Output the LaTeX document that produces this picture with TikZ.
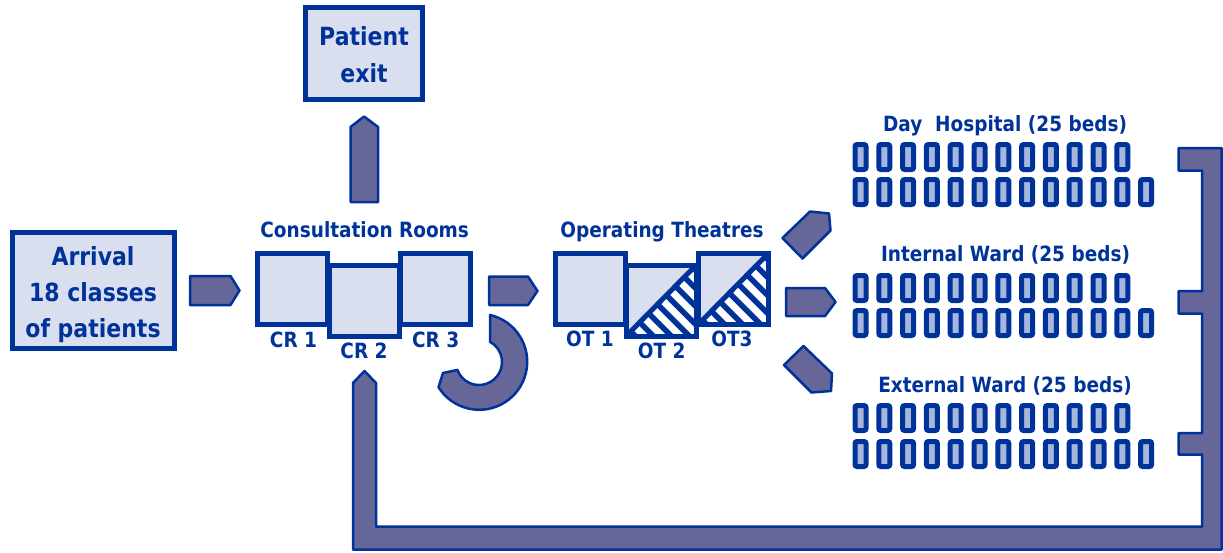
\documentclass[tikz,border=0pt]{standalone}
\usepackage{fontspec}
\usetikzlibrary{calc}
\setmainfont{DejaVu Sans}[FakeStretch=0.88]
\definecolor{dblue}{HTML}{003399}
\definecolor{lblue}{HTML}{D9DFEF}
\definecolor{purp}{HTML}{666699}
\definecolor{bedl}{HTML}{A6B6DC}
\tikzset{
  box/.style={draw=dblue, line width=5pt, fill=lblue, text=dblue, align=center, inner sep=0pt, outer sep=0pt},
  room/.style={draw=dblue, line width=5pt, fill=lblue, minimum width=70pt, minimum height=71pt, inner sep=0pt, outer sep=0pt},
  lbl/.style={text=dblue, font=\bfseries\fontsize{21}{21}\selectfont, anchor=base, inner sep=0pt},
  blk/.style={draw=dblue, line width=2.5pt, fill=purp, line join=round},
  bed/.style={draw=dblue, line width=5pt, fill=bedl, rounded corners=2pt},
  hatch/.style={dblue, line width=5.5pt}
}
\begin{document}
\begin{tikzpicture}[x=1pt,y=-1pt]
\useasboundingbox (0,0) rectangle (1223,552);

% return path with ward brackets
\draw[blk] (353,549.5) -- (1221.5,549.5) -- (1221.5,148) -- (1178.5,148) -- (1178.5,170.5)
  -- (1202,170.5) -- (1202,291) -- (1178.5,291) -- (1178.5,313.5) -- (1202,313.5)
  -- (1202,433) -- (1178.5,433) -- (1178.5,454.5) -- (1202,454.5) -- (1202,526.5)
  -- (376,526.5) -- (376,383) -- (364.5,371) -- (353,383) -- cycle;

% arrival
\node[box, minimum width=162, minimum height=116, font=\bfseries\fontsize{25}{36}\selectfont] (arrival) at (93,290) {\rule{0pt}{28pt}Arrival\\18 classes\\of patients};
\draw[blk] (190,276) -- (230.5,276) -- (239.5,290.5) -- (230.5,305) -- (190,305) -- cycle;

% exit
\node[box, minimum width=117, minimum height=92, font=\bfseries\fontsize{25}{36.7}\selectfont] (exit) at (364,53.5) {\rule{0pt}{22pt}Patient\\exit};
\draw[blk] (350.5,202) -- (350.5,127) -- (364,116.5) -- (378,127) -- (378,202) -- cycle;

% consultation rooms
\node[lbl] (crt) at (364.7,237.7) {Consultation Rooms};
\node[room] (cr1) at (292.5,289.2) {};
\node[room] (cr3) at (435.3,289.2) {};
\node[room] (cr2) at (364.2,301) {};
\node[lbl] (cr1l) at (293.5,347.3) {CR 1};
\node[lbl] (cr2l) at (364,358.3) {CR 2};
\node[lbl] (cr3l) at (435.7,347.3) {CR 3};

% loop
\draw[blk] (490,315) arc[start angle=-77, end angle=148, radius=48] -- (443,373)
  -- (457.4,369.9) arc[start angle=160, end angle=-61, radius=23] -- cycle;

% arrow CR -> OT
\draw[blk] (489,276.5) -- (528,276.5) -- (537.5,291) -- (528,305) -- (489,305) -- cycle;

% operating theatres
\node[lbl] (ott) at (662,237) {Operating Theatres};
\node[room] (ot1) at (590,289.2) {};
\node[room] (ot2) at (661.2,300.5) {};
\node[room] (ot3) at (733,289.2) {};
\foreach \o in {ot2,ot3}{
  \fill[white] (\o.south west) -- (\o.north east) -- (\o.south east) -- cycle;
  \begin{scope}
    \clip (\o.south west) -- (\o.north east) -- (\o.south east) -- cycle;
    \foreach \k in {-6,...,6}{
      \draw[hatch] ($(\o.north west)+(\k*18,-10)$) -- ++(100,100);
    }
  \end{scope}
  \draw[hatch, line width=5pt] (\o.south west) -- (\o.north east);
  \draw[hatch, line width=5pt] (\o.south west) rectangle (\o.north east);
}
\node[lbl] (ot1l) at (590,346.7) {OT 1};
\node[lbl] (ot2l) at (661.7,358.3) {OT 2};
\node[lbl] (ot3l) at (732,346.7) {OT3};

% output arrows
\draw[blk] (782.5,238) -- (810,211.5) -- (829,213.5) -- (830.5,230.5) -- (802.5,258.5) -- cycle;
\draw[blk] (786,288) -- (825,288) -- (835.5,302) -- (825,316) -- (786,316) -- cycle;
\draw[blk] (803.5,346) -- (832,373.5) -- (831,391) -- (811.5,392.5) -- (784,365) -- cycle;

% wards
\node[lbl] (dayl) at (1005,131) {Day\ \ Hospital (25 beds)};
\node[lbl] (intl) at (1005.5,261.7) {Internal Ward (25 beds)};
\node[lbl] (extl) at (1005,392.3) {External Ward (25 beds)};
\foreach \r/\n in {157/12,192/13,288/12,323/13,418/12,454/13}{
  \foreach \i in {1,...,\n}{
    \draw[bed] ({855+23.8*(\i-1)},\r-12.5) rectangle ++(11,25);
  }
}
\end{tikzpicture}
\end{document}
